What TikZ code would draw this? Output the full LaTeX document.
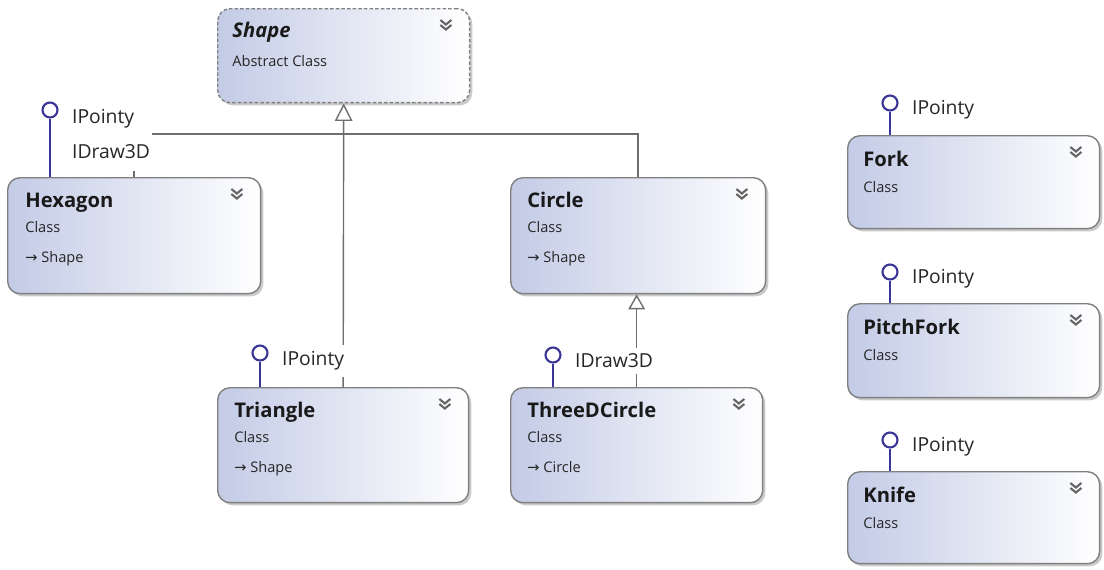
\documentclass[tikz,border=0pt]{standalone}
\usepackage{fontspec}
\setmainfont{Open Sans}
\newfontfamily\arrowfont{DejaVu Sans}
\usetikzlibrary{arrows.meta, shadows, positioning}

\definecolor{boxline}{HTML}{808080}
\definecolor{boxblue}{HTML}{C3CBE6}
\definecolor{lollyblue}{HTML}{3B3596}
\definecolor{linkgray}{HTML}{6E6E6E}
\definecolor{chevgray}{HTML}{666666}

\tikzset{
  classbox/.style={draw=boxline, line width=0.8pt, rounded corners=7pt, anchor=north west,
    inner sep=0pt, left color=boxblue, right color=white,
    drop shadow={shadow xshift=1.5pt, shadow yshift=-1.5pt, opacity=0.35, fill=black!60}},
  absbox/.style={classbox, dash pattern=on 2pt off 1.2pt},
  cname/.style={anchor=base west, inner sep=0pt, font=\fontsize{11.5}{13}\selectfont\bfseries, text=black!90},
  ckind/.style={anchor=base west, inner sep=0pt, font=\fontsize{8.3}{10}\selectfont, text=black!85},
  lolly/.style={circle, draw=lollyblue, line width=1.2pt, fill=white, minimum size=0.30cm, inner sep=0pt},
  lollyline/.style={draw=lollyblue, line width=1.2pt},
  iface/.style={anchor=west, fill=white, inner xsep=1pt, inner ysep=3.5pt,
    font=\fontsize{11}{13}\selectfont, text=black!85},
  inh/.style={draw=linkgray, line width=0.8pt},
  chev/.pic={\draw[chevgray, line width=1.2pt] (0,0) -- (5.5,4.5) -- (11,0) (0,5) -- (5.5,9.5) -- (11,5);}
}

\begin{document}
\begin{tikzpicture}[x=0.02cm, y=-0.02cm]
  \useasboundingbox (0,0) rectangle (1104,569);

  % class boxes
  \node[absbox, minimum width=5.04cm, minimum height=1.88cm] (shape) at (217,8) {};
  \node[classbox, minimum width=5.06cm, minimum height=2.32cm] (hexagon) at (7,177) {};
  \node[classbox, minimum width=5.10cm, minimum height=2.32cm] (circle) at (510,177) {};
  \node[classbox, minimum width=5.02cm, minimum height=2.30cm] (triangle) at (217,387) {};
  \node[classbox, minimum width=5.04cm, minimum height=2.30cm] (threed) at (510,387) {};
  \node[classbox, minimum width=5.04cm, minimum height=1.86cm] (fork) at (847,135) {};
  \node[classbox, minimum width=5.04cm, minimum height=1.88cm] (pitchfork) at (847,303) {};
  \node[classbox, minimum width=5.04cm, minimum height=1.84cm] (knife) at (847,471) {};

  % names and kinds
  \node[cname] (shapename) at ([shift={(15,29)}]shape.north west) {\itshape Shape};
  \node[ckind] (shapekind) at ([shift={(15,58)}]shape.north west) {Abstract Class};
  \node[cname] (hexname) at ([shift={(18,30)}]hexagon.north west) {Hexagon};
  \node[ckind] (hexkind) at ([shift={(18,55)}]hexagon.north west) {Class};
  \node[ckind] (hexbase) at ([shift={(18,85)}]hexagon.north west) {{\arrowfont →} Shape};
  \node[cname] (circname) at ([shift={(17,30)}]circle.north west) {Circle};
  \node[ckind] (circkind) at ([shift={(17,55)}]circle.north west) {Class};
  \node[ckind] (circbase) at ([shift={(17,85)}]circle.north west) {{\arrowfont →} Shape};
  \node[cname] (triname) at ([shift={(17,30)}]triangle.north west) {Triangle};
  \node[ckind] (trikind) at ([shift={(17,55)}]triangle.north west) {Class};
  \node[ckind] (tribase) at ([shift={(17,85)}]triangle.north west) {{\arrowfont →} Shape};
  \node[cname] (threedname) at ([shift={(17,30)}]threed.north west) {ThreeDCircle};
  \node[ckind] (threedkind) at ([shift={(17,55)}]threed.north west) {Class};
  \node[ckind] (threedbase) at ([shift={(17,85)}]threed.north west) {{\arrowfont →} Circle};
  \node[cname] (forkname) at ([shift={(16,31)}]fork.north west) {Fork};
  \node[ckind] (forkkind) at ([shift={(16,57)}]fork.north west) {Class};
  \node[cname] (pitchname) at ([shift={(16,31)}]pitchfork.north west) {PitchFork};
  \node[ckind] (pitchkind) at ([shift={(16,57)}]pitchfork.north west) {Class};
  \node[cname] (knifename) at ([shift={(16,31)}]knife.north west) {Knife};
  \node[ckind] (knifekind) at ([shift={(16,57)}]knife.north west) {Class};

  % collapse chevrons
  \foreach \b in {shape, hexagon, circle, triangle, threed, fork, pitchfork, knife}
    \pic at ([shift={(-30,12)}]\b.north east) {chev};

  % inheritance
  \coordinate (bus) at (343,134);
  \draw[inh] (hexagon.north) |- (bus) -| (circle.north);
  \draw[inh, -{Triangle[open, length=10pt, width=10pt]}] (triangle.north) -- (shape.south);
  \draw[inh, -{Triangle[open, length=8.5pt, width=9.5pt]}] (threed.north) -- (threed.north |- circle.south);

  % lollipops
  \node[lolly] (hexip) at (50,110) {};
  \node[lolly] (triip) at (260,353) {};
  \node[lolly] (threedip) at (553,355) {};
  \node[lolly] (forkip) at (890,103) {};
  \node[lolly] (pitchip) at (890,272) {};
  \node[lolly] (knifeip) at (890,440) {};
  \draw[lollyline] (hexip) -- (hexip |- hexagon.north);
  \draw[lollyline] (triip) -- (triip |- triangle.north);
  \draw[lollyline] (threedip) -- (threedip |- threed.north);
  \draw[lollyline] (forkip) -- (forkip |- fork.north);
  \draw[lollyline] (pitchip) -- (pitchip |- pitchfork.north);
  \draw[lollyline] (knifeip) -- (knifeip |- knife.north);

  \node[iface] (hexipl) at ([shift={(20,9)}]hexip.center) {IPointy};
  \node[iface, minimum height=0.75cm] (hexdraw) at ([shift={(20,42)}]hexip.center) {IDraw3D};
  \node[iface] (triipl) at ([shift={(20,8)}]triip.center) {IPointy};
  \node[iface] (threedipl) at ([shift={(20,6)}]threedip.center) {IDraw3D};
  \node[iface] (forkipl) at ([shift={(20,7)}]forkip.center) {IPointy};
  \node[iface] (pitchipl) at ([shift={(20,7)}]pitchip.center) {IPointy};
  \node[iface] (knifeipl) at ([shift={(20,7)}]knifeip.center) {IPointy};
\end{tikzpicture}
\end{document}
